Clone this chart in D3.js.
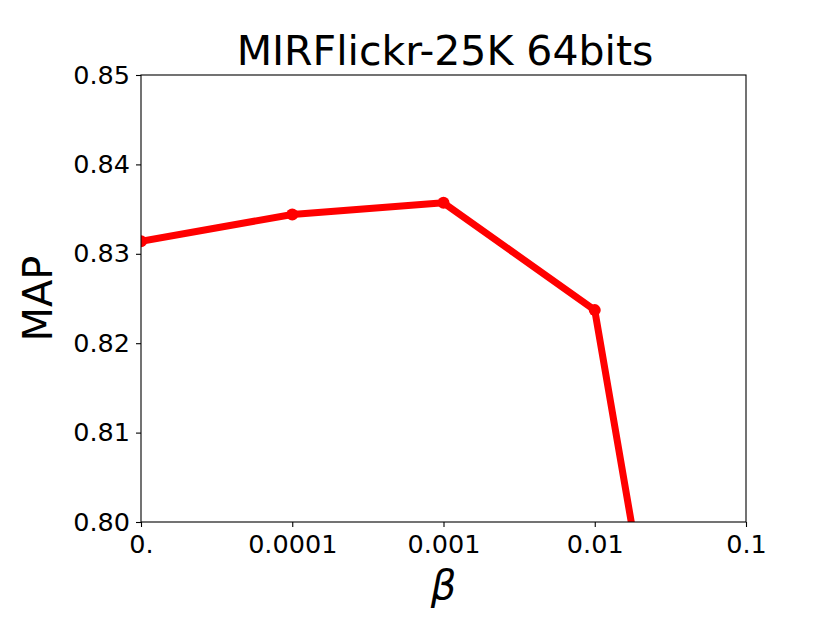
<!DOCTYPE html>
<html>
<head>
<meta charset="utf-8">
<script src="https://cdn.jsdelivr.net/npm/d3@7"></script>
<style>
  body { margin: 0; background: #fff; }
  svg text { font-family: "DejaVu Sans", sans-serif; fill: #000; }
</style>
</head>
<body>
<svg id="chart" width="830" height="623"></svg>
<script>
const categories = ["0.", "0.0001", "0.001", "0.01", "0.1"];
const mapValues = [0.8314, 0.8344, 0.8357, 0.8237, 0.7255];
const yTicks = [0.80, 0.81, 0.82, 0.83, 0.84, 0.85];
const title = "MIRFlickr-25K 64bits";
const xLabel = "β";
const yLabel = "MAP";

const svg = d3.select("#chart");
const m = { left: 141, right: 746, top: 75, bottom: 522 };

const x = d3.scalePoint().domain(categories).range([m.left, m.right]);
const y = d3.scaleLinear().domain([0.80, 0.85]).range([m.bottom, m.top]);

svg.append("defs").append("clipPath").attr("id", "clip")
  .append("rect").attr("x", m.left).attr("y", m.top)
  .attr("width", m.right - m.left).attr("height", m.bottom - m.top);

const data = categories.map((c, i) => ({ c, v: mapValues[i] }));

const g = svg.append("g").attr("clip-path", "url(#clip)");
g.append("path").datum(data)
  .attr("fill", "none").attr("stroke", "#ff0000").attr("stroke-width", 7)
  .attr("stroke-linejoin", "round")
  .attr("d", d3.line().x(d => x(d.c)).y(d => y(d.v)));
g.selectAll("circle").data(data).enter().append("circle")
  .attr("cx", d => x(d.c)).attr("cy", d => y(d.v)).attr("r", 6)
  .attr("fill", "#ff0000");

// Axes
const xAxis = d3.axisBottom(x).tickSize(5).tickPadding(8);
const yAxis = d3.axisLeft(y).tickValues(yTicks).tickFormat(d3.format(".2f")).tickSize(5).tickPadding(6);

const xg = svg.append("g").attr("transform", `translate(0,${m.bottom})`).call(xAxis);
const yg = svg.append("g").attr("transform", `translate(${m.left},0)`).call(yAxis);
[xg, yg].forEach(a => {
  a.select(".domain").remove();
  a.selectAll("line").attr("stroke", "#000").attr("stroke-width", 1.1);
  a.selectAll("text").style("font-size", "25.5px").style("font-family", "DejaVu Sans");
});

// frame
svg.append("rect").attr("x", m.left).attr("y", m.top)
  .attr("width", m.right - m.left).attr("height", m.bottom - m.top)
  .attr("fill", "none").attr("stroke", "#000").attr("stroke-width", 1.1);

svg.append("text").attr("x", 445).attr("y", 65)
  .attr("text-anchor", "middle").style("font-size", "41px").text(title);

svg.append("text").attr("x", (m.left + m.right) / 2).attr("y", 599)
  .attr("text-anchor", "middle").style("font-size", "40px").style("font-style", "italic").text(xLabel);

svg.append("text").attr("transform", `translate(52,${(m.top + m.bottom) / 2}) rotate(-90)`)
  .attr("text-anchor", "middle").style("font-size", "40px").text(yLabel);
</script>
</body>
</html>
